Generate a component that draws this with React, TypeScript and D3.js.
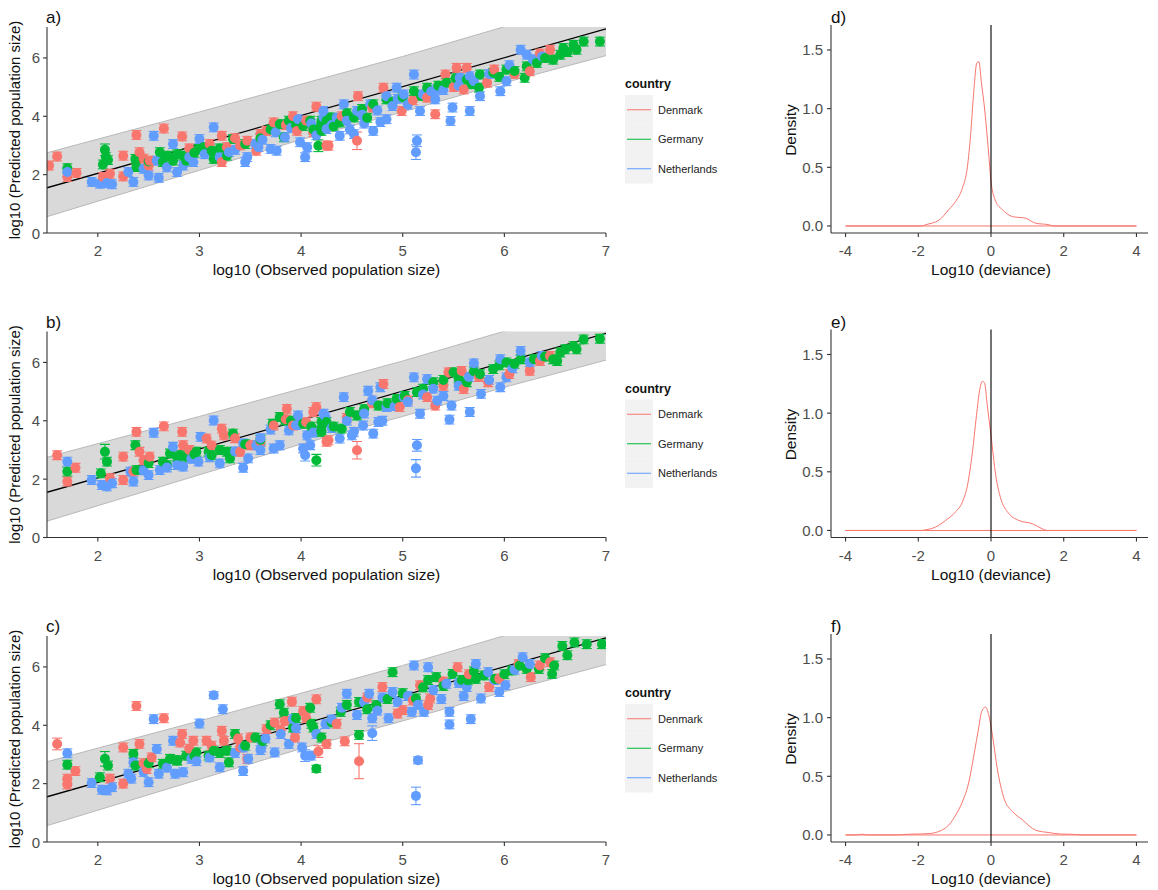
import React from 'react';
import * as d3 from 'd3';

type P = number[];

const countries = ['Denmark', 'Germany', 'Netherlands'];
const colors = ['#F8766D', '#00BA38', '#619CFF'];
const panelTags = ['a)', 'b)', 'c)'];
const densTags = ['d)', 'e)', 'f)'];

const xTicks = [2, 3, 4, 5, 6, 7];
const yTicks = [0, 2, 4, 6];
const densXTicks = [-4, -2, 0, 2, 4];
const densYTicks = [0, 0.5, 1, 1.5];

const fitX = [1.5, 7];
const fitY = [1.55, 7.0];
const bandX = [1.5, 3, 4, 5, 6, 7];
const bandLow = [0.56, 2.15, 3.2, 4.15, 5.15, 6.08];
const bandHigh = [2.75, 4.15, 5.1, 6.05, 7.07, 8.0];

const aDenmark: P[] = [[1.52,2.31],[1.60,2.62],[1.70,1.92],[1.79,2.06],[2.05,1.92],[2.12,2.03],[2.25,2.65],[2.25,1.94],[2.38,3.36],[2.41,2.77],[2.50,2.31],[2.51,2.48],[2.65,3.58],[2.83,3.31],[3.22,3.33],[3.22,2.43],[3.27,2.94],[3.40,3.0],[3.47,3.16],[3.56,2.82],[3.60,3.39],[3.66,3.50],[3.73,3.79],[3.92,4.0],[3.96,3.50],[4.12,3.45],[4.15,4.33],[4.25,3.0],[4.27,2.99],[4.55,3.16,0.3],[4.56,4.69],[4.81,4.98],[4.99,4.18],[5.24,4.64],[5.32,4.07],[5.42,5.43],[5.53,5.66],[5.60,4.92],[5.63,5.66],[5.83,5.15],[6.25,5.54],[6.45,6.28],
  [4.40,4.00],[4.70,4.30],[5.10,4.55],[5.50,5.00],[5.90,5.60],[6.10,5.45],[6.35,6.15],[3.85,3.70],[4.05,3.85],[2.45,2.55],[2.90,2.90],[3.10,3.05],[3.35,3.25]];
const aGermany: P[] = [[1.70,2.22],[2.05,2.35],[2.07,2.85,0.2],[2.08,2.6],[2.1,2.5],[2.37,2.54],[2.38,2.26],[2.61,2.77],[2.64,2.43],[2.69,2.65],[2.74,2.48],[2.84,2.65],[2.87,2.48],[2.99,2.88],[3.04,2.94],[3.12,2.82],[3.14,2.54],[3.27,2.65],[3.33,3.22],[3.79,3.73],[3.83,3.28],[3.88,3.85],[4.02,3.67],[4.09,3.85],[4.17,2.99,0.2],[4.19,3.62],[4.2,3.84],[4.2,3.50],[4.25,3.85],[4.29,3.96],[4.38,3.79],[4.52,3.96],[4.71,4.41],[4.84,4.58],[5.11,4.86],[5.24,4.98],[5.43,5.15],[5.63,5.26],[5.75,4.98],[5.76,5.43],[5.89,5.49],[6.02,5.60],[6.20,5.32],[6.22,5.71],[6.32,5.83],[6.48,5.94],[6.55,6.11],[6.58,6.34],[6.68,6.45],[6.71,6.28],[6.78,6.56],[6.94,6.56],
  [4.32,3.65],[4.45,4.10],[4.60,4.25],[4.65,3.95],[4.90,4.50],[5.00,4.65],[5.18,4.70],[5.35,5.05],[5.52,5.30],[5.68,5.10],[5.95,5.35],[6.10,5.55],[6.40,6.00],[6.62,6.20],[3.70,3.55],[3.95,3.70],[4.12,3.55],[2.50,2.45],[2.78,2.70],[2.95,2.75],[3.20,2.90],[3.45,3.05],[3.60,3.25]];
const aNetherlands: P[] = [[1.70,2.09],[1.94,1.75],[2.02,1.69],[2.09,1.71],[2.14,1.67],[2.30,2.09],[2.35,1.75],[2.50,1.97],[2.55,3.33],[2.58,2.48],[2.60,1.89],[2.74,3.05],[2.78,2.09],[2.84,2.31],[2.94,2.43],[3.00,3.22],[3.14,3.62],[3.20,2.60],[3.29,2.77],[3.45,2.43],[3.47,2.60],[3.58,2.94],[3.70,2.88],[3.76,2.82],[3.84,3.28],[3.97,3.90],[3.99,3.11],[4.04,2.60,0.15],[4.06,2.94],[4.22,3.96],[4.22,4.18],[4.25,3.56],[4.38,3.33],[4.42,4.41],[4.52,3.39],[4.55,4.18],[4.68,4.41],[4.71,3.50],[4.84,3.90],[4.84,4.69],[4.94,4.98],[5.01,4.75],[5.11,5.43],[5.13,2.77,0.25],[5.14,3.16,0.2],[5.17,4.18],[5.32,4.58],[5.33,4.92],[5.47,3.84,0.15],[5.49,4.30],[5.56,5.32],[5.66,4.18,0.15],[5.66,5.37],[5.76,4.69],[5.96,4.86],[6.02,5.20],[6.16,6.28],[6.22,6.11],[6.37,6.05],
  [4.30,3.70],[4.35,3.95],[4.45,3.85],[4.48,3.55],[4.60,4.05],[4.62,3.75],[4.75,4.20],[4.78,3.80],[4.90,4.35],[4.95,4.60],[5.05,4.40],[5.20,4.75],[5.28,4.85],[5.40,4.90],[5.55,5.05],[5.70,5.20],[5.85,5.45],[6.05,5.75],[6.28,5.95],[3.62,3.20],[3.75,3.45],[3.90,3.60],[4.10,3.75],[4.15,3.35],[2.45,2.20],[2.68,2.25],[2.90,2.60],[3.05,2.70],[3.35,2.85],[3.55,3.05]];

const bDenmark: P[] = [[1.60,2.82,0.15],[1.70,1.92],[1.78,2.39],[2.12,2.03],[2.25,2.77],[2.25,1.97],[2.35,2.26],[2.38,3.62],[2.41,2.94],[2.51,2.77],[2.65,3.81],[2.83,3.62],[2.84,3.16],[3.07,3.39],[3.22,3.73],[3.24,3.50],[3.40,2.94],[3.50,3.16],[3.60,3.28],[3.73,3.84],[3.86,4.41,0.15],[3.92,3.84],[4.12,4.30],[4.15,4.47],[4.25,3.28],[4.27,3.33],[4.55,2.99,0.3],[4.81,5.26],[4.97,4.47],[5.24,4.81],[5.32,4.52],[5.45,5.66],[5.58,5.71],[5.60,5.09],[5.84,5.32],[6.25,5.71],[6.45,6.22],
  [4.45,4.10],[4.70,4.60],[5.05,4.70],[5.40,5.20],[5.75,5.50],[6.05,5.60],[6.35,6.05],[3.85,4.05],[4.05,3.95],[2.45,2.65],[2.90,3.00],[3.12,3.15],[3.35,3.40]];
const bGermany: P[] = [[1.70,2.26],[2.03,2.20],[2.07,2.94,0.25],[2.09,2.60],[2.37,3.16],[2.38,2.31],[2.64,2.60],[2.68,2.48],[2.71,2.88],[2.81,2.82],[2.87,2.77],[2.97,2.94],[3.09,2.94],[3.12,2.82],[3.27,2.94],[3.30,2.71],[3.33,3.56],[3.79,4.13],[3.84,4.01],[4.02,3.90],[4.15,2.65,0.2],[4.20,3.67],[4.2,3.96],[4.2,3.62],[4.25,3.96],[4.40,3.73],[4.55,4.18],[4.76,4.52],[4.94,4.75],[5.14,4.98],[5.30,5.32],[5.50,5.66],[5.63,5.32],[5.76,5.60],[5.89,5.77],[6.02,6.0],[6.16,6.11],[6.29,6.11],[6.48,6.11],[6.52,6.05],[6.55,6.34],[6.68,6.56],[6.71,6.45],[6.78,6.79],[6.94,6.81],
  [4.32,3.80],[4.48,4.30],[4.62,4.40],[4.85,4.60],[5.02,4.85],[5.20,5.10],[5.40,5.40],[5.55,5.45],[5.70,5.70],[5.95,5.90],[6.10,5.95],[6.40,6.20],[6.60,6.45],[3.72,3.90],[3.90,4.00],[4.10,3.80],[2.50,2.55],[2.78,2.75],[2.95,2.85],[3.20,3.00],[3.45,3.20],[3.60,3.35]];
const bNetherlands: P[] = [[1.70,2.60],[1.94,1.97],[2.04,1.80],[2.09,1.75],[2.14,1.86],[2.32,2.26],[2.35,1.92],[2.50,2.14],[2.55,3.59],[2.61,2.31],[2.74,3.11],[2.78,2.48],[2.84,2.43],[2.99,2.60],[3.01,3.45],[3.14,4.01],[3.20,2.54],[3.43,2.39,0.15],[3.43,3.22],[3.48,2.71],[3.56,3.16],[3.73,3.05],[3.79,3.16],[3.88,3.67],[3.97,4.18],[4.02,3.05],[4.04,2.82,0.2],[4.06,3.50],[4.09,3.16],[4.22,4.24],[4.24,4.13],[4.38,3.39],[4.42,4.81],[4.52,3.62],[4.61,3.84],[4.66,5.03],[4.71,3.56],[4.76,3.96],[4.78,5.15],[4.84,4.47],[5.01,4.81],[5.11,5.49,0.15],[5.13,2.37,0.3],[5.14,3.16,0.2],[5.17,4.24],[5.24,5.43,0.15],[5.34,4.69],[5.46,4.04,0.15],[5.48,4.52],[5.66,4.30,0.15],[5.70,5.97],[5.77,4.92,0.15],[5.96,5.15,0.15],[5.96,6.11],[6.02,5.49],[6.16,6.39],[6.37,6.22],
  [4.30,3.75],[4.45,4.00],[4.50,3.50],[4.62,4.25],[4.70,4.70],[4.80,4.00],[4.92,4.50],[5.05,4.65],[5.20,4.90],[5.30,5.10],[5.40,4.85],[5.55,5.20],[5.65,5.50],[5.85,5.40],[6.08,5.80],[6.25,6.00],[3.60,3.40],[3.70,3.70],[3.95,3.85],[4.12,3.60],[2.45,2.30],[2.68,2.40],[2.92,2.70],[3.10,2.75],[3.35,2.95],[3.60,3.00]];

const cDenmark: P[] = [[1.60,3.36,0.2],[1.70,2.17],[1.70,1.97],[1.78,2.43],[2.12,2.17],[2.25,3.24],[2.25,2.0],[2.38,4.66,0.15],[2.41,3.36],[2.48,2.5],[2.53,2.90],[2.65,4.24],[2.81,3.41],[2.83,3.70],[2.94,3.47],[3.07,3.47],[3.22,3.81],[3.24,3.47],[3.40,3.24],[3.47,2.85],[3.50,3.58],[3.66,3.87],[3.74,4.09],[3.84,4.15],[3.91,4.81],[3.94,3.58],[4.02,4.49],[4.15,4.89,0.15],[4.17,3.10,0.2],[4.25,3.36],[4.43,3.45],[4.57,2.77,0.6],[4.80,5.31],[5.0,4.52],[5.17,5.37],[5.25,4.69],[5.27,4.92],[5.54,5.99],[5.85,5.31],[6.14,6.10],[6.26,5.65],[6.45,6.16],
  [4.35,4.05],[4.65,4.95],[4.95,4.40],[5.10,4.85],[5.40,5.50],[5.65,5.75],[5.95,5.60],[6.35,6.05],[3.80,3.85],[4.05,4.25],[2.45,2.70],[2.90,3.20],[3.12,3.30],[3.38,3.55]];
const cGermany: P[] = [[1.70,2.65],[2.02,2.22],[2.07,2.85,0.25],[2.10,2.62],[2.35,3.02],[2.37,2.62],[2.64,2.68],[2.71,2.85],[2.78,2.79],[2.87,2.96],[2.97,3.07],[3.09,2.96],[3.14,3.13],[3.27,3.13],[3.29,2.73],[3.35,3.70],[3.55,3.58],[3.79,4.72],[3.83,4.43],[3.92,3.92],[4.09,4.60],[4.12,3.92],[4.15,2.51,0.12],[4.20,3.58],[4.39,4.46],[4.57,4.80],[4.57,3.67],[4.74,4.69],[4.90,5.82],[5.13,4.92],[5.33,5.65],[5.49,5.76],[5.64,5.54],[5.72,5.59],[5.80,5.71],[5.91,5.59],[6.07,5.88],[6.22,5.93],[6.34,5.93],[6.47,5.76],[6.49,6.05],[6.57,6.72],[6.69,6.84],[6.81,6.78],[6.96,6.78],
  [4.30,4.10],[4.45,4.70],[4.65,4.55],[4.85,4.90],[5.00,5.10],[5.20,5.30],[5.25,5.55],[5.40,5.35],[5.58,5.55],[5.70,5.85],[6.00,5.75],[6.15,6.05],[6.40,6.30],[6.62,6.40],[3.70,4.00],[3.95,4.25],[4.10,4.05],[2.50,2.70],[2.78,2.80],[2.95,2.95],[3.20,3.05],[3.45,3.30],[3.62,3.45]];
const cNetherlands: P[] = [[1.70,3.04],[1.94,2.02],[2.04,1.79],[2.09,1.77],[2.14,1.88],[2.30,2.34],[2.33,2.17],[2.35,2.73],[2.50,2.05],[2.55,4.21],[2.58,3.19],[2.60,2.34],[2.74,3.47],[2.76,2.34],[2.84,2.39],[2.97,2.77],[3.00,4.06],[3.14,5.03,0.12],[3.20,2.56],[3.23,4.55,0.15],[3.43,2.43,0.15],[3.43,3.24],[3.48,2.85],[3.61,3.24],[3.74,3.07],[3.88,3.36],[3.92,4.21],[4.01,3.24],[4.04,2.96,0.2],[4.10,2.96],[4.24,4.04],[4.45,5.08],[4.67,5.08],[4.70,4.24],[4.70,3.73,0.25],[4.86,4.24],[4.90,5.14],[5.09,4.46],[5.11,6.05],[5.13,1.58,0.3],[5.15,2.80,0.12],[5.21,4.46],[5.25,5.99],[5.43,5.42],[5.46,4.46],[5.46,4.03],[5.63,5.31],[5.67,4.21,0.15],[5.72,6.10],[5.77,4.92,0.15],[5.84,5.82],[5.95,5.14],[6.01,5.37],[6.18,6.33],
  [4.30,4.20],[4.40,4.60],[4.55,4.35],[4.62,4.80],[4.75,4.50],[4.80,4.95],[4.95,4.80],[5.05,5.00],[5.15,4.70],[5.30,5.20],[5.38,4.90],[5.55,5.45],[5.60,5.00],[5.90,5.55],[6.10,5.90],[6.25,6.10],[3.65,3.55],[3.80,3.70],[3.95,3.90],[4.15,3.70],[2.45,2.40],[2.68,2.55],[2.92,2.85],[3.10,2.90],[3.35,3.05],[3.60,3.15]];

const dX = [-4, -1.9, -1.8, -1.43, -1.16, -0.97, -0.79, -0.65, -0.56, -0.47, -0.39, -0.33, -0.27, -0.17, -0.07, 0, 0.13, 0.31, 0.59, 0.95, 1.23, 1.6, 1.7, 4];
const dY = [0, 0, 0.01, 0.05, 0.14, 0.21, 0.32, 0.5, 0.78, 1.16, 1.39, 1.40, 1.24, 0.98, 0.64, 0.38, 0.21, 0.14, 0.08, 0.066, 0.023, 0.01, 0, 0];
const eX = [-4, -1.9, -1.8, -1.52, -1.25, -0.97, -0.79, -0.65, -0.51, -0.40, -0.31, -0.24, -0.18, -0.10, 0, 0.13, 0.27, 0.45, 0.77, 1.14, 1.41, 1.55, 4];
const eY = [0, 0, 0.005, 0.03, 0.085, 0.16, 0.24, 0.38, 0.67, 0.98, 1.20, 1.27, 1.26, 1.06, 0.81, 0.47, 0.27, 0.16, 0.085, 0.057, 0.014, 0, 0];
const fX = [-4, -3.7, -3.55, -3.4, -2.6, -2.3, -2.0, -1.7, -1.43, -1.16, -0.97, -0.79, -0.61, -0.47, -0.33, -0.26, -0.15, -0.06, 0.04, 0.17, 0.36, 0.59, 0.86, 1.23, 1.6, 1.9, 2.2, 2.5, 4];
const fY = [0, 0, 0.006, 0, 0, 0.006, 0.008, 0.012, 0.03, 0.085, 0.17, 0.28, 0.45, 0.68, 0.93, 1.05, 1.09, 1.02, 0.85, 0.57, 0.31, 0.20, 0.13, 0.04, 0.02, 0.008, 0.006, 0, 0];

const scatterData = [
  [aDenmark, aGermany, aNetherlands],
  [bDenmark, bGermany, bNetherlands],
  [cDenmark, cGermany, cNetherlands],
];
const densData = [[dX, dY], [eX, eY], [fX, fY]];

const FONT = 'Liberation Sans, Arial, Helvetica, sans-serif';
const PANEL_STEP = 304.5;
const TICK_COLOR = '#4d4d4d';
const AXIS_COLOR = '#333333';

function ScatterPanel({ idx }: { idx: number }) {
  const top = idx * PANEL_STEP;
  const x = d3.scaleLinear().domain([1.5, 7]).range([47, 606]);
  const y = d3.scaleLinear().domain([0, 7.06]).range([233 + top, 27 + top]);
  const band = bandX.map((v, i) => [v, bandLow[i], bandHigh[i]]);
  const area = d3.area<number[]>().x(d => x(d[0])).y0(d => y(d[1])).y1(d => y(d[2]));
  const lineLow = d3.line<number[]>().x(d => x(d[0])).y(d => y(d[1]));
  const lineHigh = d3.line<number[]>().x(d => x(d[0])).y(d => y(d[2]));
  const fit = d3.line<number>().x(d => x(d)).y((d, i) => y(fitY[i]));
  const clipId = `clip-s-${idx}`;
  const pts: { p: P; c: number }[] = [];
  scatterData[idx].forEach((arr, c) => arr.forEach(p => pts.push({ p, c })));
  pts.sort((a, b) => a.p[0] - b.p[0]);
  const [x0, x1] = x.range();
  const [yb, yt] = y.range();
  const legendTop = 80 + top;
  return (
    <g>
      <defs>
        <clipPath id={clipId}>
          <rect x={x0} y={yt} width={x1 - x0} height={yb - yt} />
        </clipPath>
      </defs>
      <g clipPath={`url(#${clipId})`}>
        <path d={area(band) || ''} fill="#d9d9d9" stroke="none" />
        <path d={lineLow(band) || ''} fill="none" stroke="#b8b8b8" strokeWidth={1} />
        <path d={lineHigh(band) || ''} fill="none" stroke="#b8b8b8" strokeWidth={1} />
        <path d={fit(fitX) || ''} fill="none" stroke="#000" strokeWidth={1.3} />
        {pts.map(({ p, c }, i) => {
          const e = p[2] ?? 0.15;
          const cx = x(p[0]);
          return (
            <g key={'e' + i} stroke={colors[c]} strokeWidth={1.1}>
              <line x1={cx} x2={cx} y1={y(p[1] - e)} y2={y(p[1] + e)} />
              <line x1={cx - 5} x2={cx + 5} y1={y(p[1] - e)} y2={y(p[1] - e)} />
              <line x1={cx - 5} x2={cx + 5} y1={y(p[1] + e)} y2={y(p[1] + e)} />
            </g>
          );
        })}
        {pts.map(({ p, c }, i) => (
          <circle key={'p' + i} cx={x(p[0])} cy={y(p[1])} r={5} fill={colors[c]} />
        ))}
      </g>
      <line x1={x0} x2={x1} y1={yb} y2={yb} stroke={AXIS_COLOR} strokeWidth={1.1} />
      <line x1={x0} x2={x0} y1={yb} y2={yt} stroke={AXIS_COLOR} strokeWidth={1.1} />
      {xTicks.map(t => (
        <g key={'xt' + t}>
          <line x1={x(t)} x2={x(t)} y1={yb} y2={yb + 4} stroke={AXIS_COLOR} strokeWidth={1.1} />
          <text x={x(t)} y={yb + 23} textAnchor="middle" fontSize={15} fill={TICK_COLOR} fontFamily={FONT}>{t}</text>
        </g>
      ))}
      {yTicks.map(t => (
        <g key={'yt' + t}>
          <line x1={x0 - 4} x2={x0} y1={y(t)} y2={y(t)} stroke={AXIS_COLOR} strokeWidth={1.1} />
          <text x={x0 - 7} y={y(t) + 5.5} textAnchor="end" fontSize={15} fill={TICK_COLOR} fontFamily={FONT}>{t}</text>
        </g>
      ))}
      <text x={(x0 + x1) / 2} y={yb + 42} textAnchor="middle" fontSize={15.5} fill="#111" fontFamily={FONT}>log10 (Observed population size)</text>
      <text transform={`translate(20,${(yb + yt) / 2}) rotate(-90)`} textAnchor="middle" fontSize={15} fill="#111" fontFamily={FONT}>log10 (Predicted population size)</text>
      <text x={46} y={23 + top} fontSize={17} fill="#111" fontFamily={FONT}>{panelTags[idx]}</text>
      <text x={625} y={legendTop + 8} fontSize={12.5} fontWeight="bold" fill="#111" fontFamily={FONT}>country</text>
      {countries.map((name, i) => {
        const ky = legendTop + 15 + i * 29.5;
        return (
          <g key={name}>
            <rect x={625} y={ky} width={28} height={29.5} fill="#f2f2f2" />
            <line x1={627} x2={651} y1={ky + 14.75} y2={ky + 14.75} stroke={colors[i]} strokeWidth={1} />
            <text x={658} y={ky + 14.75 + 4} fontSize={11} fill="#222" fontFamily={FONT}>{name}</text>
          </g>
        );
      })}
    </g>
  );
}

function DensityPanel({ idx }: { idx: number }) {
  const top = idx * PANEL_STEP;
  const x = d3.scaleLinear().domain([-4.4, 4.4]).range([831, 1151]);
  const y = d3.scaleLinear().domain([-0.06, 1.713]).range([233 + top, 25 + top]);
  const [xs, ys] = densData[idx];
  const pts = xs.map((v, i) => [v, ys[i]]);
  const line = d3.line<number[]>().x(d => x(d[0])).y(d => y(d[1])).curve(d3.curveMonotoneX);
  const [x0] = x.range();
  const x1 = 1148;
  const [yb, yt] = y.range();
  return (
    <g>
      <path d={line(pts) || ''} fill="none" stroke="#F8766D" strokeWidth={1} />
      <line x1={x(-4)} x2={x(4)} y1={y(0)} y2={y(0)} stroke="#F8766D" strokeWidth={1} />
      <line x1={x(0)} x2={x(0)} y1={yt} y2={yb} stroke="#000" strokeWidth={1.1} />
      <line x1={x0} x2={x1} y1={yb} y2={yb} stroke={AXIS_COLOR} strokeWidth={1.1} />
      <line x1={x0} x2={x0} y1={yb} y2={yt} stroke={AXIS_COLOR} strokeWidth={1.1} />
      {densXTicks.map(t => (
        <g key={'dx' + t}>
          <line x1={x(t)} x2={x(t)} y1={yb} y2={yb + 4} stroke={AXIS_COLOR} strokeWidth={1.1} />
          <text x={x(t)} y={yb + 23} textAnchor="middle" fontSize={15} fill={TICK_COLOR} fontFamily={FONT}>{t}</text>
        </g>
      ))}
      {densYTicks.map(t => (
        <g key={'dy' + t}>
          <line x1={x0 - 4} x2={x0} y1={y(t)} y2={y(t)} stroke={AXIS_COLOR} strokeWidth={1.1} />
          <text x={x0 - 8} y={y(t) + 5.5} textAnchor="end" fontSize={15} fill={TICK_COLOR} fontFamily={FONT}>{d3.format('.1f')(t)}</text>
        </g>
      ))}
      <text x={x(0)} y={yb + 42} textAnchor="middle" fontSize={15.5} fill="#111" fontFamily={FONT}>Log10 (deviance)</text>
      <text transform={`translate(796,${(yb + yt) / 2 + 1}) rotate(-90)`} textAnchor="middle" fontSize={15.5} fill="#111" fontFamily={FONT}>Density</text>
      <text x={831} y={23 + top} fontSize={17} fill="#111" fontFamily={FONT}>{densTags[idx]}</text>
    </g>
  );
}

export default function App() {
  return (
    <svg width={1158} height={890} style={{ position: 'absolute', left: 0, top: 0, background: '#fff' }}>
      <rect width={1158} height={890} fill="#fff" />
      {[0, 1, 2].map(i => <ScatterPanel key={'s' + i} idx={i} />)}
      {[0, 1, 2].map(i => <DensityPanel key={'d' + i} idx={i} />)}
    </svg>
  );
}
